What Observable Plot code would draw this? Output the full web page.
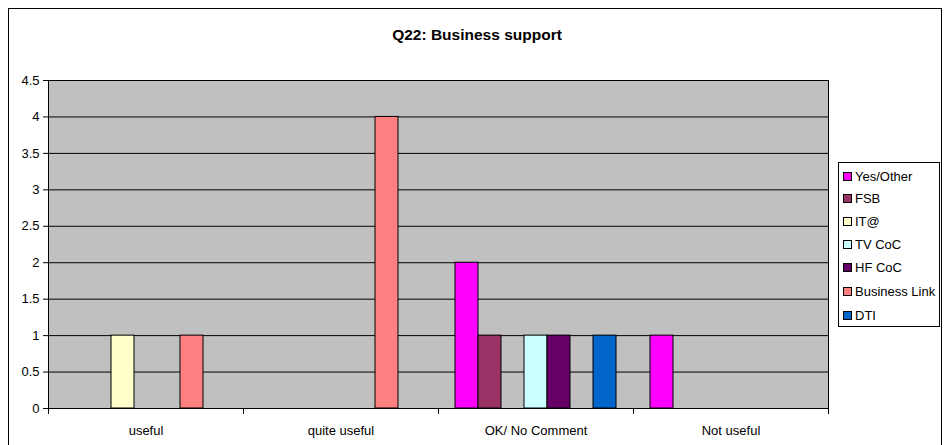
<!DOCTYPE html>
<html>
<head>
<meta charset="utf-8">
<script src="https://cdn.jsdelivr.net/npm/d3@7"></script>
<script src="https://cdn.jsdelivr.net/npm/@observablehq/plot@0.6"></script>
<style>
  html, body { margin: 0; padding: 0; background: #fff; }
  #wrap { position: relative; width: 945px; height: 445px; overflow: hidden; font-family: "Liberation Sans", Arial, sans-serif; }
  #border { position: absolute; left: 8px; top: 8px; width: 934px; height: 460px; border: 1px solid #000; box-sizing: border-box; }
  #title { position: absolute; left: 8px; width: 938px; top: 27px; text-align: center; font-weight: bold; font-size: 15.5px; line-height: 15.5px; color: #000; }
  #chart { position: absolute; left: 0; top: 0; }
  #legend { position: absolute; left: 838px; top: 162px; width: 102px; height: 165px; border: 1px solid #000; box-sizing: border-box; background: #fff; }
  .item { position: absolute; left: 4px; font-size: 13px; line-height: 13px; color: #000; white-space: nowrap; }
  .sw { display: inline-block; width: 7px; height: 7px; border: 1px solid #000; margin-right: 3px; vertical-align: 0px; }
</style>
</head>
<body>
<div id="wrap">
  <div id="border"></div>
  <div id="chart"></div>
  <div id="title">Q22: Business support</div>
  <div id="legend"></div>
</div>
<script>
const categories = ["useful", "quite useful", "OK/ No Comment", "Not useful"];
const series = ["Yes/Other", "FSB", "IT@", "TV CoC", "HF CoC", "Business Link", "DTI"];
const colors = ["#FF00FF", "#993366", "#FFFFCC", "#CCFFFF", "#660066", "#FF8080", "#0066CC"];
const yTicks = [0, 0.5, 1, 1.5, 2, 2.5, 3, 3.5, 4, 4.5];

// values per category, in series order
const useful        = [0, 0, 1, 0, 0, 1, 0];
const quiteUseful   = [0, 0, 0, 0, 0, 4, 0];
const okNoComment   = [2, 1, 0, 1, 1, 0, 1];
const notUseful     = [1, 0, 0, 0, 0, 0, 0];

const valuesByCat = [useful, quiteUseful, okNoComment, notUseful];
const data = [];
categories.forEach((c, i) => {
  series.forEach((s, j) => {
    const v = valuesByCat[i][j];
    if (v > 0) data.push({cat: c, series: s, value: v});
  });
});

// shorten a frame edge line into a tick hanging below the x axis
function tickBelow(index, scales, values, dimensions, context, next) {
  const el = next(index, scales, values, dimensions, context);
  const yb = dimensions.height - dimensions.marginBottom;
  const sel = d3.select(el);
  const lines = el && el.tagName && el.tagName.toLowerCase() === "line" ? sel : sel.selectAll("line");
  lines.attr("y1", yb).attr("y2", yb + 5);
  return el;
}

const chart = Plot.plot({
  width: 945,
  height: 445,
  marginLeft: 48,
  marginRight: 117,
  marginTop: 80,
  marginBottom: 37,
  style: {fontFamily: "'Liberation Sans', Arial, sans-serif", fontSize: "13px", color: "#000", background: "transparent"},
  fx: {domain: categories, padding: 0, label: null},
  x: {domain: series, paddingInner: 0, paddingOuter: 0.739, axis: null},
  y: {domain: [0, 4.5], label: null},
  color: {domain: series, range: colors},
  marks: [
    Plot.frame({fill: "#C0C0C0", stroke: "#C0C0C0"}),
    Plot.gridY(yTicks, {stroke: "#000", strokeOpacity: 1, strokeWidth: 1}),
    Plot.barY(data, {fx: "cat", x: "series", y: "value", fill: "series", stroke: "#000", strokeWidth: 1}),
    Plot.ruleY([0], {stroke: "#000"}),
    Plot.frame({anchor: "left", facetAnchor: "left", stroke: "#000"}),
    Plot.frame({anchor: "right", facetAnchor: "right", stroke: "#000"}),
    Plot.frame({anchor: "left", stroke: "#000", render: tickBelow}),
    Plot.frame({anchor: "right", facetAnchor: "right", stroke: "#000", render: tickBelow}),
    Plot.axisY(yTicks, {tickSize: 5, tickPadding: 4, tickFormat: d => String(d), label: null, fontSize: 13}),
    Plot.axisFx({anchor: "bottom", tickSize: 0, tickPadding: 17, label: null, fontSize: 13})
  ]
});
document.getElementById("chart").appendChild(chart);

const legend = document.getElementById("legend");
const rowTops = [7, 29, 52, 75, 98, 122, 146];
series.forEach((s, i) => {
  const d = document.createElement("div");
  d.className = "item";
  d.style.top = rowTops[i] + "px";
  const sw = document.createElement("span");
  sw.className = "sw";
  sw.style.background = colors[i];
  d.appendChild(sw);
  d.appendChild(document.createTextNode(s));
  legend.appendChild(d);
});
</script>
</body>
</html>
